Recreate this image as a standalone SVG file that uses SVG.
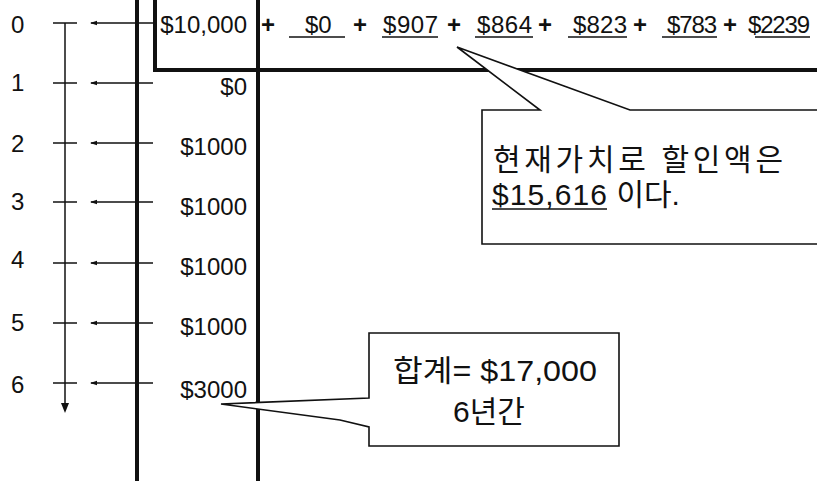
<svg xmlns="http://www.w3.org/2000/svg" width="817" height="481" viewBox="0 0 817 481">
<style>
text{font-family:"Liberation Sans","Noto Sans CJK KR",Arial,sans-serif;fill:#111}
.t{font-size:24px}
.v{font-size:24px;text-anchor:end}
.p{font-size:24px;font-weight:bold;text-anchor:middle}
.c{font-size:30px}
.thick{stroke:#111;stroke-width:4;fill:none}
.thin{stroke:#111;stroke-width:1.5;fill:none}
.ul{stroke:#111;stroke-width:1.5}
.call{stroke:#111;stroke-width:1.6;fill:#fff;stroke-linejoin:miter}
</style>
<defs>
<marker id="ah" markerWidth="7" markerHeight="6" refX="6" refY="3" orient="auto" markerUnits="userSpaceOnUse">
<path d="M0,0.8 L7,3 L0,5.2 Z" fill="#111"/>
</marker>
</defs>
<rect width="817" height="481" fill="#fff"/>

<g id="frame">
<line class="thick" x1="137" y1="0" x2="137" y2="481"/>
<line class="thick" x1="258" y1="0" x2="258" y2="481"/>
<polyline class="thick" points="155,0 155,70 817,70"/>
</g>

<g id="timeline">
<line class="thin" x1="65" y1="23" x2="65" y2="405"/>
<polygon points="61,403 69,403 65,413" fill="#111"/>
<line class="thin" x1="53" y1="23" x2="77" y2="23"/>
<line class="thin" x1="53" y1="83" x2="77" y2="83"/>
<line class="thin" x1="53" y1="143" x2="77" y2="143"/>
<line class="thin" x1="53" y1="202" x2="77" y2="202"/>
<line class="thin" x1="53" y1="263" x2="77" y2="263"/>
<line class="thin" x1="53" y1="323" x2="77" y2="323"/>
<line class="thin" x1="53" y1="383" x2="77" y2="383"/>
</g>

<g id="year-labels">
<text class="t" x="11" y="33">0</text>
<text class="t" x="11" y="91">1</text>
<text class="t" x="11" y="152">2</text>
<text class="t" x="11" y="210">3</text>
<text class="t" x="11" y="268">4</text>
<text class="t" x="11" y="331">5</text>
<text class="t" x="11" y="393">6</text>
</g>

<g id="connectors">
<line class="thin" x1="153" y1="23" x2="91" y2="23" marker-end="url(#ah)"/>
<line class="thin" x1="153" y1="83" x2="91" y2="83" marker-end="url(#ah)"/>
<line class="thin" x1="153" y1="143" x2="91" y2="143" marker-end="url(#ah)"/>
<line class="thin" x1="153" y1="202" x2="91" y2="202" marker-end="url(#ah)"/>
<line class="thin" x1="153" y1="263" x2="91" y2="263" marker-end="url(#ah)"/>
<line class="thin" x1="153" y1="323" x2="91" y2="323" marker-end="url(#ah)"/>
<line class="thin" x1="153" y1="383" x2="91" y2="383" marker-end="url(#ah)"/>
</g>

<g id="cash-flows">
<text class="v" x="247" y="33">$10,000</text>
<text class="v" x="247" y="95">$0</text>
<text class="v" x="247" y="155">$1000</text>
<text class="v" x="247" y="215">$1000</text>
<text class="v" x="247" y="275">$1000</text>
<text class="v" x="247" y="335">$1000</text>
<text class="v" x="247" y="398">$3000</text>
</g>

<g id="present-values">
<text class="p" x="268" y="33">+</text>
<text class="t" x="305" y="33">$0</text>
<line class="ul" x1="289" y1="37" x2="345" y2="37"/>
<text class="p" x="360" y="33">+</text>
<text class="t" x="383" y="33" textLength="55">$907</text>
<line class="ul" x1="382" y1="37" x2="438" y2="37"/>
<text class="p" x="454" y="33">+</text>
<text class="t" x="477" y="33" textLength="55">$864</text>
<line class="ul" x1="475" y1="37" x2="533" y2="37"/>
<text class="p" x="545" y="33">+</text>
<text class="t" x="573" y="33" textLength="54">$823</text>
<line class="ul" x1="568" y1="37" x2="627" y2="37"/>
<text class="p" x="640" y="33">+</text>
<text class="t" x="667" y="33" textLength="50">$783</text>
<line class="ul" x1="662" y1="37" x2="717" y2="37"/>
<text class="p" x="730" y="33">+</text>
<text class="t" x="748" y="33" textLength="62">$2239</text>
<line class="ul" x1="755" y1="37" x2="810" y2="37"/>
</g>

<g id="callout-pv">
<path class="call" d="M482,110 L540,110 L457,47 L630,110 L830,110 L830,244 L482,244 Z"/>
<text class="c" x="493" y="170" textLength="290" lengthAdjust="spacing">현재가치로 할인액은</text>
<text class="c" x="492" y="205"><tspan textLength="115">$15,616</tspan> 이다.</text>
<line class="ul" x1="492" y1="209" x2="607" y2="209"/>
</g>

<g id="callout-total">
<path class="call" d="M369,333 L619,333 L619,446 L369,446 L369,427 L340,420 L221,404 L369,398 Z"/>
<text class="c" x="393" y="381" textLength="204" lengthAdjust="spacingAndGlyphs">합계= $17,000</text>
<text class="c" x="489" y="422" text-anchor="middle">6년간</text>
</g>
</svg>
